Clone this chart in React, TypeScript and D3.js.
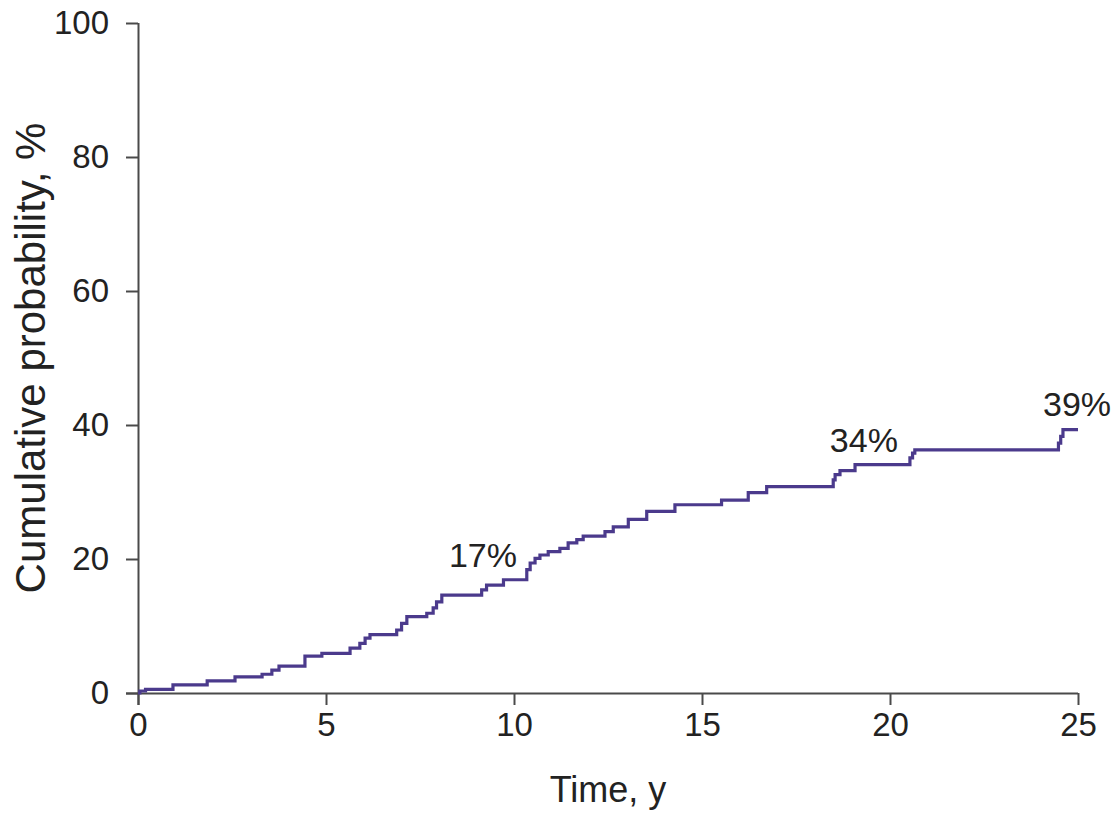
import React, { useEffect, useRef } from "react";
import * as d3 from "d3";

const times: number[] = [0, 0.05, 0.2, 0.93, 1.84, 2.58, 3.3, 3.56, 3.75, 4.44, 4.89, 5.64, 5.9, 6.04, 6.17, 6.88, 7.01, 7.15, 7.68, 7.85, 7.94, 8.08, 9.14, 9.27, 9.72, 10.34, 10.43, 10.56, 10.69, 10.91, 11.22, 11.44, 11.67, 11.84, 12.42, 12.64, 13.04, 13.53, 14.28, 15.52, 16.23, 16.72, 18.49, 18.54, 18.67, 19.07, 20.53, 20.6, 20.66, 24.48, 24.54, 24.6, 25];
const probs: number[] = [0, 0.3, 0.55, 1.2, 1.8, 2.4, 2.8, 3.4, 4.0, 5.5, 5.9, 6.7, 7.4, 8.2, 8.7, 9.4, 10.4, 11.4, 11.9, 12.7, 13.6, 14.6, 15.4, 16.1, 16.9, 18.4, 19.4, 20.1, 20.6, 21.1, 21.6, 22.4, 22.9, 23.4, 24.1, 24.8, 25.9, 27.1, 28.1, 28.8, 29.9, 30.8, 31.8, 32.6, 33.2, 34.1, 35.1, 35.8, 36.3, 37.3, 38.3, 39.3, 39.3];

const xTicks: number[] = [0, 5, 10, 15, 20, 25];
const yTicks: number[] = [0, 20, 40, 60, 80, 100];

const annoText: string[] = ["17%", "34%", "39%"];
const annoT: number[] = [8.27, 18.4, 24.07];
const annoV: number[] = [18.8, 36.0, 41.3];

const xTitle = "Time, y";
const yTitle = "Cumulative probability, %";

const W = 1119;
const H = 814;
const FONT = "'Liberation Sans', Arial, Helvetica, sans-serif";

export default function App() {
  const ref = useRef<SVGSVGElement | null>(null);

  useEffect(() => {
    const svg = d3.select(ref.current);
    svg.selectAll("*").remove();

    const x = d3.scaleLinear().domain([0, 25]).range([138, 1078]);
    const y = d3.scaleLinear().domain([0, 100]).range([693, 23]);

    const axisColor = "#4a4a4a";
    const textColor = "#222";

    // X axis
    const gx = svg.append("g").attr("transform", `translate(0,${y(0)})`);
    gx.call(
      d3.axisBottom(x).tickValues(xTicks).tickSize(12).tickPadding(8).tickFormat(d3.format("d")) as any
    );
    gx.select(".domain").attr("stroke", axisColor).attr("stroke-width", 2).attr("d", `M${x(0) - 12},0.5H${x(25)}`);
    gx.selectAll(".tick line").attr("stroke", axisColor).attr("stroke-width", 2);
    gx.selectAll(".tick text")
      .attr("fill", textColor)
      .attr("font-size", 33)
      .attr("font-family", FONT);

    // Y axis
    const gy = svg.append("g").attr("transform", `translate(${x(0)},0)`);
    gy.call(
      d3.axisLeft(y).tickValues(yTicks).tickSize(12).tickPadding(17).tickFormat(d3.format("d")) as any
    );
    gy.select(".domain").attr("stroke", axisColor).attr("stroke-width", 2).attr("d", `M0.5,${y(100)}V${y(0) + 12}`);
    gy.selectAll(".tick line").attr("stroke", axisColor).attr("stroke-width", 2);
    gy.selectAll(".tick text")
      .attr("fill", textColor)
      .attr("font-size", 33)
      .attr("font-family", FONT);

    // Step curve
    const pts: [number, number][] = times.map((t, i) => [t, probs[i]]);
    const line = d3
      .line<[number, number]>()
      .x((d) => x(d[0]))
      .y((d) => y(d[1]))
      .curve(d3.curveStepAfter);
    svg
      .append("path")
      .attr("d", line(pts) as string)
      .attr("fill", "none")
      .attr("stroke", "#4b3a8c")
      .attr("stroke-width", 3.2);

    // Annotations
    svg
      .selectAll("text.anno")
      .data(annoText)
      .enter()
      .append("text")
      .attr("class", "anno")
      .attr("x", (_d, i) => x(annoT[i]))
      .attr("y", (_d, i) => y(annoV[i]))
      .attr("font-size", 34)
      .attr("font-family", FONT)
      .attr("fill", textColor)
      .text((d) => d);

    // Axis titles
    svg
      .append("text")
      .attr("x", (x(0) + x(25)) / 2)
      .attr("y", 802)
      .attr("text-anchor", "middle")
      .attr("font-size", 36)
      .attr("font-family", FONT)
      .attr("fill", textColor)
      .text(xTitle);

    svg
      .append("text")
      .attr("transform", `translate(45,${(y(0) + y(100)) / 2}) rotate(-90)`)
      .attr("text-anchor", "middle")
      .attr("font-size", 42)
      .attr("font-family", FONT)
      .attr("fill", textColor)
      .text(yTitle);
  }, []);

  return (
    <svg
      ref={ref}
      width={W}
      height={H}
      style={{ position: "absolute", left: 0, top: 0, background: "#fff" }}
    />
  );
}
